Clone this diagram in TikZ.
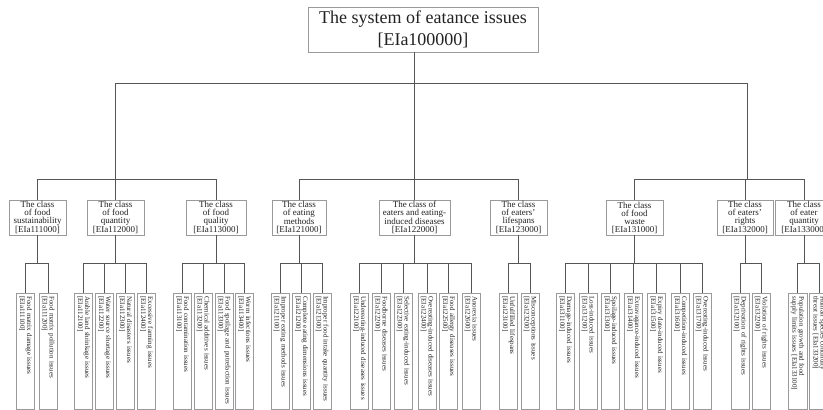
\documentclass[tikz,border=0pt]{standalone}
\usepackage{fontspec}
\setmainfont{Liberation Serif}
\definecolor{boxgray}{HTML}{9A9A9A}
\definecolor{linec}{HTML}{555555}
\definecolor{inkc}{HTML}{222222}
\newcommand\eia[1]{[EIa#1]}
\begin{document}
\begin{tikzpicture}[x=1pt,y=-1pt,
  box/.style={draw=boxgray, line width=0.7pt, inner sep=0pt, align=center, text=inkc},
  rootbox/.style={box, minimum width=230pt, minimum height=45pt,
    font=\fontsize{18}{22}\selectfont},
  classbox/.style={box, minimum height=35pt, font=\fontsize{9}{8}\selectfont},
  leafbox/.style={draw=boxgray, line width=0.7pt, rotate=-90, anchor=west,
    minimum width=116pt, minimum height=18pt, inner ysep=0pt, inner xsep=3pt,
    text width=110pt, align=left, text=inkc, font=\fontsize{7}{7}\selectfont},
  link/.style={draw=linec, line width=0.8pt}]
\useasboundingbox (0,0) rectangle (823,410);
\fill[white] (0,0) rectangle (823,410);
\clip (0,0) rectangle (823,410);

% root of the hierarchy
\node[rootbox] (root) at (423,29.5) {The system of eatance issues\\\eia{100000}};

% branching points
\coordinate (hub) at (414,83);
\coordinate (g1) at (115,179);
\coordinate (g2) at (414,179);
\coordinate (g3) at (747,179);

% classes
\node[classbox, minimum width=57pt] (c1) at (37.5,217.5) {The class\\of food\\sustainability\\\eia{111000}};
\node[classbox, minimum width=57pt] (c2) at (115.5,217.5) {The class\\of food\\quantity\\\eia{112000}};
\node[classbox, minimum width=60pt] (c3) at (216,217.5) {The class\\of food\\quality\\\eia{113000}};
\node[classbox, minimum width=54pt] (c4) at (299,217.5) {The class\\of eating\\methods\\\eia{121000}};
\node[classbox, minimum width=71pt] (c5) at (414.5,217.5) {The class of\\eaters and eating-\\induced diseases\\\eia{122000}};
\node[classbox, minimum width=57pt] (c6) at (518.5,217.5) {The class\\of eaters'\\lifespans\\\eia{123000}};
\node[classbox, minimum width=57pt] (c7) at (634.5,217.5) {The class\\of food\\waste\\\eia{131000}};
\node[classbox, minimum width=56pt] (c8) at (745,217.5) {The class\\of eaters'\\rights\\\eia{132000}};
\node[classbox, minimum width=57pt] (c9) at (804,217.5) {The class\\of eater\\quantity\\\eia{133000}};

% issues of food sustainability
\node[leafbox] (l111100) at (25.5,293) {Food matrix damage issues\\\eia{111100}};
\node[leafbox] (l111200) at (48,293) {Food matrix pollution issues\\\eia{111200}};
% issues of food quantity
\node[leafbox] (l112100) at (83.5,293) {Arable land shrinkage issues\\\eia{112100}};
\node[leafbox] (l112200) at (104.5,293) {Water source shortage issues\\\eia{112200}};
\node[leafbox] (l112300) at (125.5,293) {Natural disasters issues\\\eia{112300}};
\node[leafbox] (l112400) at (146.5,293) {Excessive farming issues\\\eia{112400}};
% issues of food quality
\node[leafbox] (l113100) at (182.5,293) {Food contamination issues\\\eia{113100}};
\node[leafbox] (l113200) at (203,293) {Chemical additives issues\\\eia{113200}};
\node[leafbox] (l113300) at (224,293) {Food spoilage and putrefaction issues\\\eia{113300}};
\node[leafbox] (l113400) at (244.5,293) {Worm infections issues\\\eia{113400}};
% issues of eating methods
\node[leafbox] (l121100) at (280,293) {Improper eating methods issues\\\eia{121100}};
\node[leafbox] (l121200) at (301.5,293) {Complete eating dimensions issues\\\eia{121200}};
\node[leafbox] (l121300) at (322,293) {Improper food intake quantity issues\\\eia{121300}};
% issues of eaters and eating-induced diseases
\node[leafbox] (l122100) at (359.5,293) {Undereating-induced diseases issues\\\eia{122100}};
\node[leafbox] (l122200) at (381,293) {Foodborne diseases issues\\\eia{122200}};
\node[leafbox] (l122300) at (403,293) {Selective eating-induced issues\\\eia{122300}};
\node[leafbox] (l122400) at (427,293) {Overeating-induced diseases issues\\\eia{122400}};
\node[leafbox] (l122500) at (448.5,293) {Food allergy diseases issues\\\eia{122500}};
\node[leafbox] (l122600) at (471,293) {Anorexia issues\\\eia{122600}};
% issues of eaters' lifespans
\node[leafbox] (l123100) at (508.5,293) {Unfulfilled lifespans\\\eia{123100}};
\node[leafbox] (l123200) at (530,293) {Misconceptions issues\\\eia{123200}};
% issues of food waste
\node[leafbox] (l131100) at (565.5,293) {Damage-induced issues\\\eia{131100}};
\node[leafbox] (l131200) at (588,293) {Loss-induced issues\\\eia{131200}};
\node[leafbox] (l131300) at (610.5,293) {Spoilage-induced issues\\\eia{131300}};
\node[leafbox] (l131400) at (633.5,293) {Extravagance-induced issues\\\eia{131400}};
\node[leafbox] (l131500) at (656.5,293) {Expiry date-induced issues\\\eia{131500}};
\node[leafbox] (l131600) at (680.5,293) {Competition-induced issues\\\eia{131600}};
\node[leafbox] (l131700) at (702,293) {Overeating-induced issues\\\eia{131700}};
% issues of eaters' rights
\node[leafbox] (l132100) at (740,293) {Deprivation of rights issues\\\eia{132100}};
\node[leafbox] (l132200) at (761,293) {Violation of rights issues\\\eia{132200}};
% issues of eater quantity
\node[leafbox, minimum height=19pt] (l133100) at (797.5,293) {Population growth and food\\supply limits issues \eia{133100}};
\node[leafbox, minimum height=19pt] (l133200) at (819,293) {Human species continuity\\threat issues \eia{133200}};

% root to classes
\draw[link] (root.south -| hub) -- (hub);
\draw[link] (hub) -| (g1);
\draw[link] (hub) -- (g2);
\draw[link] (hub) -| (g3);
\foreach \c in {c1,c2,c3} \draw[link] (g1) -| (\c.north);
\foreach \c in {c4,c5,c6} \draw[link] (g2) -| (\c.north);
\foreach \c in {c7,c8,c9} \draw[link] (g3) -| (\c.north);

% classes to issues
\foreach \l in {l111100,l111200} \draw[link] (c1.south) -- ++(0,28) -| (\l.west);
\foreach \l in {l112100,l112200,l112300,l112400} \draw[link] (c2.south) -- ++(0,28) -| (\l.west);
\foreach \l in {l113100,l113200,l113300,l113400} \draw[link] (c3.south) -- ++(0,28) -| (\l.west);
\foreach \l in {l121100,l121200,l121300} \draw[link] (c4.south) -- ++(0,28) -| (\l.west);
\foreach \l in {l122100,l122200,l122300,l122400,l122500,l122600} \draw[link] (c5.south) -- ++(0,28) -| (\l.west);
\foreach \l in {l123100,l123200} \draw[link] (c6.south) -- ++(0,28) -| (\l.west);
\foreach \l in {l131100,l131200,l131300,l131400,l131500,l131600,l131700} \draw[link] (c7.south) -- ++(0,28) -| (\l.west);
\foreach \l in {l132100,l132200} \draw[link] (c8.south) -- ++(0,28) -| (\l.west);
\foreach \l in {l133100,l133200} \draw[link] (c9.south) -- ++(0,28) -| (\l.west);
\end{tikzpicture}
\end{document}
